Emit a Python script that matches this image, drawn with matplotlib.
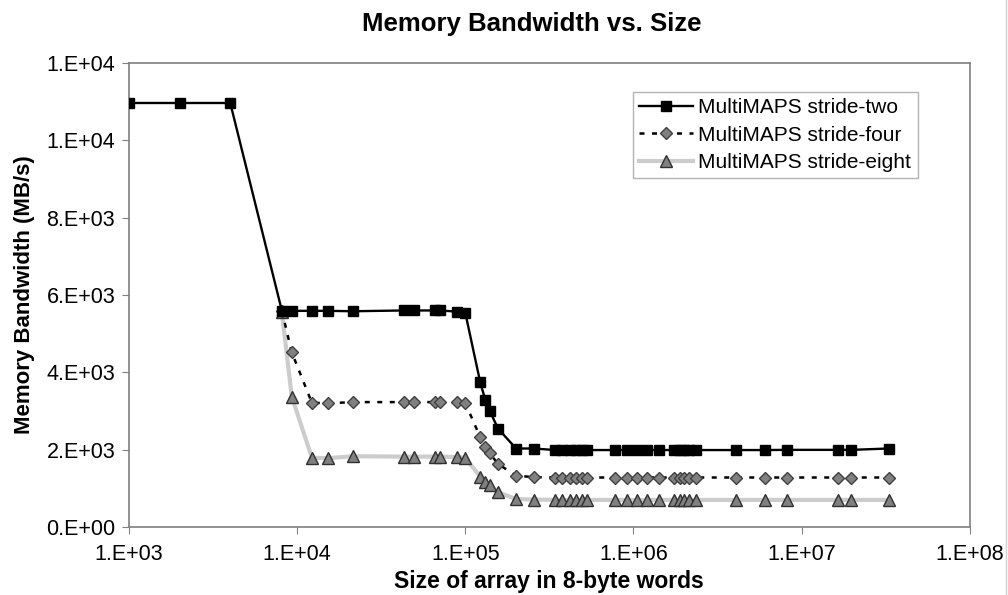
import matplotlib
matplotlib.use("Agg")
import matplotlib.pyplot as plt
from matplotlib.lines import Line2D
from matplotlib.ticker import FuncFormatter, FixedLocator, NullLocator

plt.rcParams['font.family'] = ['Liberation Sans', 'DejaVu Sans']

# array sizes (8-byte words)
sizes = [1000, 2000, 4000, 8110, 9290, 12230, 15350, 21480, 42950, 49200,
         66200, 70900, 89300, 100000, 122700, 131500, 139600, 156700, 200500,
         255300, 343000, 378000, 422000, 458000, 497000, 532000, 781000,
         917000, 1052000, 1206000, 1415000, 1754000, 1880000, 2010000,
         2155000, 2340000, 4100000, 6100000, 8150000, 16400000, 19800000,
         33100000]

stride_two = [10966, 10966, 10966, 5594, 5590, 5590, 5590, 5580, 5600, 5600,
              5600, 5600, 5570, 5540, 3742, 3284, 3008, 2542, 2030, 2030,
              1990, 1990, 1990, 1990, 1990, 1990, 1990, 1990, 1990, 1990,
              1990, 1990, 1990, 1990, 1990, 1990, 1990, 1990, 1995, 1995,
              1995, 2030]

# stride-four and stride-eight start at the 4th size
stride_four = [5594, 4516, 3214, 3200, 3230, 3230, 3230, 3230, 3230, 3230,
               3210, 2319, 2061, 1906, 1629, 1327, 1290, 1280, 1280, 1280,
               1280, 1280, 1280, 1280, 1280, 1280, 1280, 1280, 1280, 1280,
               1280, 1280, 1280, 1280, 1280, 1280, 1280, 1280, 1280]

stride_eight = [5560, 3370, 1792, 1780, 1830, 1820, 1820, 1820, 1820, 1810,
                1790, 1301, 1156, 1086, 897, 724, 710, 700, 700, 700,
                700, 700, 700, 700, 700, 700, 700, 700, 700, 700,
                700, 700, 700, 700, 700, 700, 700, 700, 700]

fig = plt.figure(figsize=(10.08, 5.95), dpi=100)
ax = fig.add_axes([0.128, 0.1143, 0.834, 0.7798])

ax.plot(sizes, stride_two, color='black', lw=1.7, marker='s', ms=7,
        mfc='black', mec='black', label='MultiMAPS stride-two', zorder=3)
ax.plot(sizes[3:], stride_four, color='black', lw=1.8, ls=(0, (2, 3)),
        marker='D', ms=6, mfc='#808080', mec='#404040', mew=1,
        label='MultiMAPS stride-four', zorder=2)
ax.plot(sizes[3:], stride_eight, color='#cccccc', lw=3, marker='^', ms=8.5,
        mfc='#808080', mec='#303030', mew=1, label='MultiMAPS stride-eight',
        zorder=1)

ax.set_xscale('log')
ax.set_xlim(1e3, 1e8)
ax.set_ylim(0, 12000)
ax.xaxis.set_major_locator(FixedLocator([1e3, 1e4, 1e5, 1e6, 1e7, 1e8]))
ax.xaxis.set_minor_locator(NullLocator())
ax.yaxis.set_major_locator(FixedLocator([0, 2000, 4000, 6000, 8000, 10000, 12000]))

# excel style 0.E+00 labels
fmt = FuncFormatter(lambda v, p: f"{v:#.0E}")
ax.xaxis.set_major_formatter(fmt)
ax.yaxis.set_major_formatter(fmt)

for s in ax.spines.values():
    s.set_color('#808080')
    s.set_linewidth(1.2)
ax.tick_params(axis='both', direction='out', length=5, color='#808080',
               labelsize=15.5)
ax.tick_params(axis='x', pad=7)
ax.tick_params(axis='y', pad=5)

fig.text(0.545, 0.012, 'Size of array in 8-byte words', fontsize=16.5,
         fontweight='bold', ha='center', va='baseline')
ax.set_ylabel('Memory Bandwidth (MB/s)', fontsize=16, fontweight='bold',
              labelpad=8)
fig.text(0.528, 0.96, 'Memory Bandwidth vs. Size', fontsize=18.5,
         fontweight='bold', ha='center', va='center')

leg = ax.legend(loc='upper right', bbox_to_anchor=(0.938, 0.9375),
                fontsize=15, frameon=True, fancybox=False, borderpad=0.3,
                labelspacing=0.4, handlelength=2.6, handletextpad=0.25,
                borderaxespad=0)
leg.get_frame().set_edgecolor('#a0a0a0')
leg.get_frame().set_linewidth(1)

fig.add_artist(Line2D([0.9985, 0.9985], [0, 1], color='#d0d0d0', lw=1))

fig.savefig('out.png', dpi=100)
